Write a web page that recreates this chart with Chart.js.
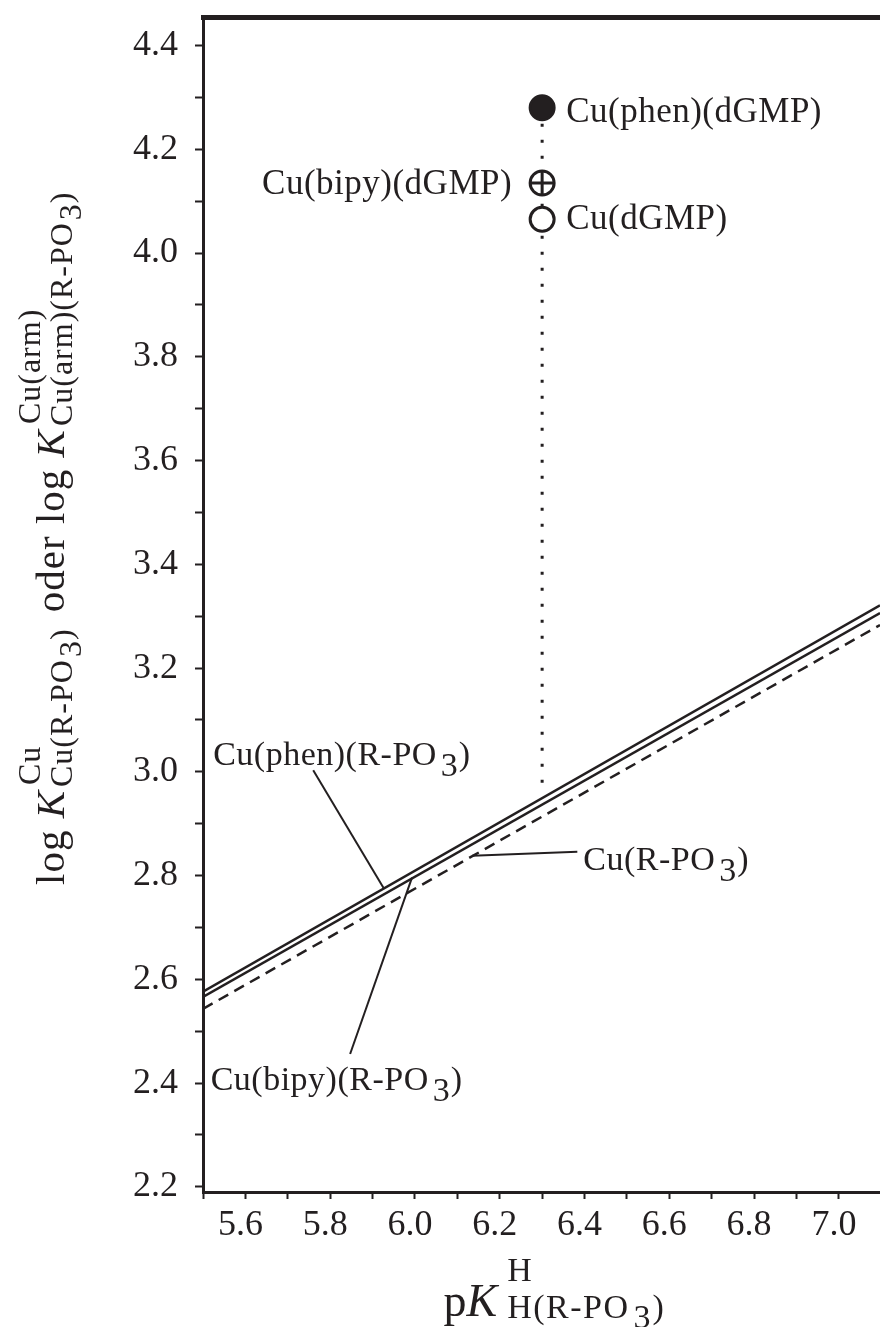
<!DOCTYPE html>
<html>
<head>
<meta charset="utf-8">
<script src="https://cdn.jsdelivr.net/npm/chart.js@4.4.1/dist/chart.umd.min.js"></script>
<style>
  html, body { margin: 0; padding: 0; background: #fff; }
  #chart { display: block; }
</style>
</head>
<body>
<canvas id="chart" width="880" height="1327"></canvas>
<script>
const ink = '#231f20';
const serif = '"Liberation Serif", "Times New Roman", Tinos, serif';

// correlation lines, read at both ends of the visible x range
const lineX = [5.5, 7.097];
const phenLine = [2.576, 3.321];
const bipyLine = [2.566, 3.306];
const cuLine = [2.543, 3.283];

// dGMP complexes
const dgmpX = [6.3, 6.3, 6.3];
const dgmpY = [4.28, 4.135, 4.065];
const dgmpNames = ['Cu(phen)(dGMP)', 'Cu(bipy)(dGMP)', 'Cu(dGMP)'];

// dotted drop line below the points
const dropX = [6.3, 6.3];
const dropY = [4.28, 2.97];

// leader lines from labels to the lines
const phenLeaderX = [5.76, 5.926];
const phenLeaderY = [3.003, 2.776];
const bipyLeaderX = [5.847, 5.993];
const bipyLeaderY = [2.456, 2.796];
const cuLeaderX = [6.135, 6.383];
const cuLeaderY = [2.838, 2.846];

// line labels: left end / baseline in data units
const lineLabelNames = ['Cu(phen)(R-PO', 'Cu(bipy)(R-PO', 'Cu(R-PO'];
const lineLabelX = [5.524, 5.518, 6.397];
const lineLabelY = [3.013, 2.386, 2.81];

const xTickLabels = ['5.6', '5.8', '6.0', '6.2', '6.4', '6.6', '6.8', '7.0'];
const yTickLabels = ['2.2', '2.4', '2.6', '2.8', '3.0', '3.2', '3.4', '3.6', '3.8', '4.0', '4.2', '4.4'];

const pts = (xs, ys) => xs.map((x, i) => ({ x: x, y: ys[i] }));

function drawRich(ctx, items, x, y, angle) {
    ctx.save();
    ctx.translate(x, y);
    ctx.rotate(angle);
    ctx.fillStyle = ink;
    ctx.textBaseline = 'alphabetic';
    ctx.textAlign = 'left';
    const run = (segs, u0) => {
        let u = u0;
        segs.forEach(s => {
            ctx.font = (s.italic ? 'italic ' : '') + s.size + 'px ' + serif;
            ctx.letterSpacing = (s.sp || 0) + 'px';
            u += s.gap || 0;
            ctx.fillText(s.t, u, s.dy || 0);
            u += ctx.measureText(s.t).width;
        });
        return u;
    };
    let u = 0;
    items.forEach(it => {
        if (it.stack) u = Math.max(...it.stack.map(segs => run(segs, u)));
        else u = run([it], u);
    });
    ctx.restore();
}

const textPlugin = {
    id: 'texts',
    afterDraw(chart) {
        const ctx = chart.ctx;
        const xs = chart.scales.x, ys = chart.scales.y;
        const area = chart.chartArea;

        // point labels
        ctx.save();
        ctx.fillStyle = ink;
        ctx.font = '35px ' + serif;
        ctx.letterSpacing = '0.5px';
        ctx.textBaseline = 'alphabetic';
        const offs = [[24, 14, 'left'], [-30, 11, 'right'], [24, 10, 'left']];
        dgmpNames.forEach((name, i) => {
            const px = xs.getPixelForValue(dgmpX[i]);
            const py = ys.getPixelForValue(dgmpY[i]);
            ctx.textAlign = offs[i][2];
            ctx.fillText(name, px + offs[i][0], py + offs[i][1]);
        });
        ctx.restore();

        // line labels with subscript 3
        lineLabelNames.forEach((name, i) => {
            drawRich(ctx, [
                { t: name, size: 34, sp: 0.5 },
                { t: '3', size: 34, dy: 11, gap: 4 },
                { t: ')', size: 34, gap: 1 }
            ], xs.getPixelForValue(lineLabelX[i]), ys.getPixelForValue(lineLabelY[i]), 0);
        });

        // x axis title
        const cx = (area.left + area.right) / 2;
        drawRich(ctx, [
            { t: 'p', size: 46 },
            { t: 'K', size: 46, italic: true },
            { stack: [
                [{ t: 'H', size: 34, dy: -35, gap: 10 }],
                [{ t: 'H(R-PO', size: 34, dy: 2, gap: 10, sp: 1.5 },
                 { t: '3', size: 34, dy: 12, gap: 4 },
                 { t: ')', size: 34, dy: 2, gap: 2 }]
            ] }
        ], cx - 98, 1316, 0);

        // y axis title
        drawRich(ctx, [
            { t: 'log ', size: 41, sp: 1 },
            { t: 'K', size: 41, italic: true },
            { stack: [
                [{ t: 'Cu', size: 32, dy: -24, gap: 6, sp: 1 }],
                [{ t: 'Cu(R-PO', size: 32, dy: 8, gap: 4, sp: 1 },
                 { t: '3', size: 32, dy: 17, gap: 2 },
                 { t: ')', size: 32, dy: 8, gap: 1 }]
            ] },
            { t: ' oder log ', size: 41, sp: 1, gap: 6 },
            { t: 'K', size: 41, italic: true },
            { stack: [
                [{ t: 'Cu(arm)', size: 32, dy: -24, gap: 6, sp: 1 }],
                [{ t: 'Cu(arm)(R-PO', size: 32, dy: 8, gap: 4, sp: 1 },
                 { t: '3', size: 32, dy: 17, gap: 2 },
                 { t: ')', size: 32, dy: 8, gap: 1 }]
            ] }
        ], 64, 885, -Math.PI / 2);
    }
};

const keepTenths = (axis) => {
    axis.ticks = axis.ticks.filter(t => Math.abs(t.value * 10 - Math.round(t.value * 10)) < 1e-6);
};

function makeChart() {
    new Chart(document.getElementById('chart'), {
        type: 'line',
        data: {
            datasets: [
                {
                    // cross of the bipy point, on top
                    type: 'scatter',
                    data: pts([dgmpX[1]], [dgmpY[1]]),
                    pointStyle: 'cross',
                    pointRadius: 12,
                    borderColor: ink,
                    borderWidth: 3
                },
                {
                    type: 'scatter',
                    data: pts(dgmpX, dgmpY),
                    pointStyle: 'circle',
                    pointRadius: 12,
                    backgroundColor: [ink, '#fff', '#fff'],
                    borderColor: ink,
                    borderWidth: 3
                },
                {
                    data: pts(dropX, dropY),
                    borderColor: ink,
                    borderWidth: 3,
                    borderDash: [3, 13],
                    pointRadius: 0
                },
                {
                    data: pts(lineX, phenLine),
                    borderColor: ink,
                    borderWidth: 2.5,
                    pointRadius: 0
                },
                {
                    data: pts(lineX, bipyLine),
                    borderColor: ink,
                    borderWidth: 2.5,
                    pointRadius: 0
                },
                {
                    data: pts(lineX, cuLine),
                    borderColor: ink,
                    borderWidth: 2.5,
                    borderDash: [11, 7],
                    pointRadius: 0
                },
                {
                    data: pts(phenLeaderX, phenLeaderY),
                    borderColor: ink,
                    borderWidth: 2,
                    pointRadius: 0
                },
                {
                    data: pts(bipyLeaderX, bipyLeaderY),
                    borderColor: ink,
                    borderWidth: 2,
                    pointRadius: 0
                },
                {
                    data: pts(cuLeaderX, cuLeaderY),
                    borderColor: ink,
                    borderWidth: 2,
                    pointRadius: 0
                }
            ]
        },
        options: {
            responsive: false,
            devicePixelRatio: 1,
            animation: false,
            layout: { padding: 0, autoPadding: false },
            plugins: {
                legend: { display: false },
                tooltip: { enabled: false },
                title: { display: false }
            },
            scales: {
                x: {
                    type: 'linear',
                    position: 'bottom',
                    min: 5.5,
                    max: 7.097,
                    afterFit: s => { s.height = 135; s.paddingLeft = 0; s.paddingRight = 0; },
                    afterBuildTicks: keepTenths,
                    border: { color: ink, width: 3 },
                    grid: { drawOnChartArea: false, drawTicks: true, tickLength: 7, tickWidth: 2, tickColor: ink },
                    ticks: {
                        stepSize: 0.1,
                        includeBounds: false,
                        autoSkip: false,
                        maxRotation: 0,
                        padding: 5,
                        labelOffset: -5,
                        color: ink,
                        font: { family: serif, size: 36 },
                        callback: v => {
                            const s = Number(v).toFixed(1);
                            return xTickLabels.includes(s) ? s : '';
                        }
                    }
                },
                xTop: {
                    type: 'linear',
                    position: 'top',
                    min: 5.5,
                    max: 7.097,
                    afterFit: s => { s.height = 17; s.paddingLeft = 0; s.paddingRight = 0; },
                    border: { color: ink, width: 5 },
                    grid: { display: false, drawTicks: false },
                    ticks: { display: false }
                },
                y: {
                    type: 'linear',
                    position: 'left',
                    min: 2.19,
                    max: 4.455,
                    afterFit: s => { s.width = 203; s.paddingTop = 0; s.paddingBottom = 0; },
                    afterBuildTicks: keepTenths,
                    border: { color: ink, width: 3 },
                    grid: { drawOnChartArea: false, drawTicks: true, tickLength: 8, tickWidth: 2, tickColor: ink },
                    ticks: {
                        stepSize: 0.1,
                        includeBounds: false,
                        autoSkip: false,
                        maxTicksLimit: 100,
                        padding: 17,
                        color: ink,
                        font: { family: serif, size: 36 },
                        callback: v => {
                            const s = Number(v).toFixed(1);
                            return yTickLabels.includes(s) ? s : '';
                        }
                    }
                }
            }
        },
        plugins: [textPlugin]
    });
}

Promise.all([
    document.fonts.load('36px "Liberation Serif"'),
    document.fonts.load('italic 36px "Liberation Serif"')
]).catch(() => null).then(makeChart);
</script>
</body>
</html>
